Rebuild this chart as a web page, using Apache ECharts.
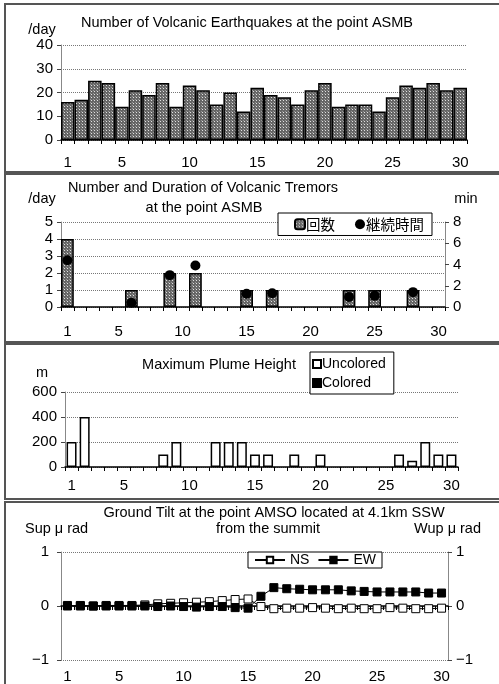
<!DOCTYPE html>
<html><head><meta charset="utf-8">
<script src="https://cdn.jsdelivr.net/npm/echarts@6/dist/echarts.min.js"></script>
<style>html,body{margin:0;padding:0;background:#fff}#c{width:499px;height:684px}</style>
</head><body><div id="c"></div>
<script>
const days = ['1','2','3','4','5','6','7','8','9','10','11','12','13','14','15','16','17','18','19','20','21','22','23','24','25','26','27','28','29','30'];
const quakes = [16,17,25,24,14,21,19,24,14,23,21,15,20,12,22,19,18,15,21,24,14,15,15,12,18,23,22,24,21,22];
const tremorCount = [4,null,null,null,null,1,null,null,2,null,2,null,null,null,1,null,1,null,null,null,null,null,1,null,1,null,null,1,null,null];
const tremorDuration = [4.4,null,null,null,null,0.4,null,null,3.0,null,3.9,null,null,null,1.25,null,1.3,null,null,null,null,null,0.95,null,1.05,null,null,1.4,null,null];
const plumeUncolored = [200,400,null,null,null,null,null,100,200,null,null,200,200,200,100,100,null,100,null,100,null,null,null,null,null,100,50,200,100,100];
const plumeColored = [];
const tiltNS = [0.01,0.0,0.0,0.01,0.01,0.01,0.02,0.04,0.05,0.06,0.07,0.08,0.10,0.12,0.13,-0.01,-0.05,-0.04,-0.04,-0.03,-0.04,-0.05,-0.04,-0.05,-0.05,-0.03,-0.04,-0.05,-0.05,-0.04];
const tiltEW = [0.0,0.01,0.0,0.0,0.0,0.0,0.0,-0.01,0.0,-0.01,-0.02,-0.01,-0.01,-0.03,-0.04,0.18,0.34,0.32,0.31,0.30,0.30,0.30,0.28,0.27,0.26,0.26,0.26,0.26,0.24,0.24];

const FONT = 'Liberation Sans';
const JP = 'Noto Sans CJK JP';
const TS = 14.5;
const AS = 15;

// dotted fill pattern
const pc = document.createElement('canvas');
pc.width = 3; pc.height = 3;
const px = pc.getContext('2d');
px.fillStyle = '#666666'; px.fillRect(0,0,3,3);
px.fillStyle = '#e0e0e0'; px.fillRect(1,1,1,1);
px.fillStyle = '#969696'; px.fillRect(0,0,1,1);
const pattern = {image: pc, repeat: 'repeat'};

function xAxis(gi, margin){
  return {
    type:'category', gridIndex: gi, data: days, boundaryGap: true,
    axisLine:{lineStyle:{color:'#000', width:1.5}},
    axisTick:{show:true, interval:0, length:4, inside:false, lineStyle:{color:'#000'}},
    axisLabel:{interval: (i)=> i===0 || (i+1)%5===0, color:'#000', fontFamily:FONT, fontSize:AS, margin: margin},
    splitLine:{show:false}
  };
}
function yAxis(gi, min, max, interval, pos, opts){
  return Object.assign({
    type:'value', gridIndex: gi, min, max, interval, position: pos,
    axisLine:{show:true, lineStyle:{color:'#888', width:1}},
    axisTick:{show:true, length:4, lineStyle:{color:'#444'}},
    axisLabel:{color:'#000', fontFamily:FONT, fontSize:AS, margin:8},
    splitLine:{show: pos==='left', lineStyle:{type:'dotted', color:'#777', width:1}}
  }, opts||{});
}
function txt(x, y, s, align, size, fam){
  return {type:'text', x, y, style:{text:s, fill:'#000', font: (size||TS)+'px "'+(fam||FONT)+'"', textAlign: align||'center', textVerticalAlign:'middle'}, z:10};
}
function panel(y, h){
  return {type:'rect', shape:{x:5, y, width:520, height:h}, style:{fill:'none', stroke:'#555', lineWidth:2}, z:0};
}
const minusFmt = (v)=> v<0 ? '\u2212'+Math.abs(v) : String(v);

const option = {
  animation:false,
  backgroundColor:'#fff',
  grid:[
    {left:61, top:45, right:32, height:95},
    {left:61, top:222, right:54, height:85},
    {left:65, top:392, right:41, height:75},
    {left:61, top:552, right:51, height:113}
  ],
  xAxis:[ xAxis(0, 15), xAxis(1, 17), xAxis(2, 11), xAxis(3, 9) ],
  yAxis:[
    yAxis(0, 0, 40, 10, 'left'),
    yAxis(1, 0, 5, 1, 'left'),
    yAxis(1, 0, 8, 2, 'right'),
    yAxis(2, 0, 600, 200, 'left'),
    yAxis(3, -1, 1, 1, 'left', {axisLabel:{color:'#000', fontFamily:FONT, fontSize:AS, margin:12, formatter:minusFmt}}),
    yAxis(3, -1, 1, 1, 'right', {axisLabel:{color:'#000', fontFamily:FONT, fontSize:AS, margin:8, formatter:minusFmt}})
  ],
  legend:[
    {data:['回数','継続時間'], left:278, top:213, orient:'horizontal', padding:[4,8,4,16], itemGap:20, itemWidth:10, itemHeight:10,
     backgroundColor:'#fff', borderColor:'#000', borderWidth:1, borderRadius:0,
     textStyle:{fontFamily:JP, fontSize:14.5, color:'#000', padding:[0,0,0,-4]}},
    {data:[{name:'Uncolored', icon:'rect'},{name:'Colored', icon:'rect'}], left:310, top:352, orient:'vertical', padding:[5,8,4,2], itemGap:5, itemWidth:8, itemHeight:8,
     backgroundColor:'#fff', borderColor:'#000', borderWidth:1, borderRadius:0,
     textStyle:{fontFamily:FONT, fontSize:14, color:'#000', padding:[0,0,0,-4]}},
    {data:['NS','EW'], left:248, top:552, orient:'horizontal', padding:[1,6,1,6], itemGap:8, itemWidth:30, itemHeight:8,
     backgroundColor:'#fff', borderColor:'#000', borderWidth:1, borderRadius:0,
     textStyle:{fontFamily:FONT, fontSize:14, color:'#000'}}
  ],
  series:[
    {type:'bar', name:'quakes', xAxisIndex:0, yAxisIndex:0, data:quakes, barCategoryGap:'0%',
     itemStyle:{color:pattern, borderColor:'#000', borderWidth:1.5}},
    {type:'bar', name:'回数', xAxisIndex:1, yAxisIndex:1, data:tremorCount, barCategoryGap:'0%',
     itemStyle:{color:pattern, borderColor:'#000', borderWidth:1.5}},
    {type:'scatter', name:'継続時間', xAxisIndex:1, yAxisIndex:2, data:tremorDuration, symbol:'circle', symbolSize:10,
     itemStyle:{color:'#000', opacity:1}, z:5},
    {type:'bar', name:'Uncolored', xAxisIndex:2, yAxisIndex:3, data:plumeUncolored, barCategoryGap:'24%', barGap:'-100%',
     itemStyle:{color:'#fff', borderColor:'#000', borderWidth:1.5}},
    {type:'bar', name:'Colored', xAxisIndex:2, yAxisIndex:3, data:plumeColored, barCategoryGap:'24%', barGap:'-100%',
     itemStyle:{color:'#000', borderColor:'#000', borderWidth:1}},
    {type:'line', name:'NS', xAxisIndex:3, yAxisIndex:4, data:tiltNS, symbol:'rect', symbolSize:8, showAllSymbol:true,
     lineStyle:{color:'#000', width:1}, itemStyle:{color:'#fff', borderColor:'#000', borderWidth:1}, z:3},
    {type:'line', name:'EW', xAxisIndex:3, yAxisIndex:4, data:tiltEW, symbol:'rect', symbolSize:8, showAllSymbol:true,
     lineStyle:{color:'#000', width:1}, itemStyle:{color:'#000', borderColor:'#000', borderWidth:1}, z:4}
  ],
  graphic:[
    panel(4, 168), panel(174, 168), panel(344, 155), panel(502, 190),
    txt(247, 23, 'Number of Volcanic Earthquakes at the point ASMB'),
    txt(42, 30, '/day', 'center'),
    txt(203, 188, 'Number and Duration of Volcanic Tremors'),
    txt(204, 208, 'at the point ASMB'),
    txt(42, 199, '/day', 'center'),
    txt(466, 199, 'min', 'center'),
    txt(219, 365, 'Maximum Plume Height'),
    txt(42, 373, 'm', 'center'),
    txt(274, 513, 'Ground Tilt at the point AMSO located at 4.1km SSW'),
    txt(268, 529, 'from the summit'),
    txt(25, 529, 'Sup \u03bc rad', 'left'),
    txt(481, 529, 'Wup \u03bc rad', 'right')
  ]
};
const chart = echarts.init(document.getElementById('c'), null, {renderer:'canvas'});
chart.setOption(option);
</script></body></html>
